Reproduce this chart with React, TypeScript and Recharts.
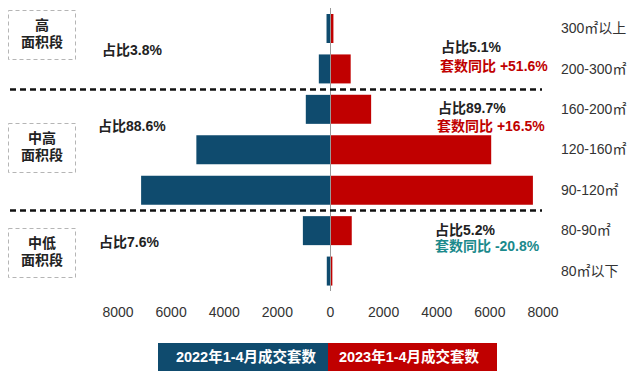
import React from 'react'
import {
  BarChart,
  Bar,
  XAxis,
  YAxis,
  ReferenceLine,
} from 'recharts'

const categories = ['300㎡以上', '200-300㎡', '160-200㎡', '120-160㎡', '90-120㎡', '80-90㎡', '80㎡以下']
const sales2022 = [150, 440, 930, 5050, 7130, 1040, 140]
const sales2023 = [110, 760, 1530, 6050, 7620, 800, 70]
const xTicks = [-8000, -6000, -4000, -2000, 0, 2000, 4000, 6000, 8000]

const BLUE = '#0f4b6e'
const RED = '#c00000'
const TEAL = '#1b8a8c'
const FONT = '"Liberation Sans", "Noto Sans CJK SC", sans-serif'

const data = categories.map((name, i) => ({
  name,
  y2022: -sales2022[i],
  y2023: sales2023[i],
}))

const GroupBox = ({ y, lines }: { y: number; lines: string[] }) => (
  <g>
    <rect x={8.5} y={y + 0.5} width={67} height={49} fill='none' stroke='#b5b5b5' strokeDasharray='4 3' />
    {lines.map((t, i) => (
      <text
        key={i}
        x={42}
        y={y + 15 + i * 17}
        textAnchor='middle'
        dominantBaseline='central'
        fontSize={14}
        fontWeight='bold'
        fill='#222'
      >
        {t}
      </text>
    ))}
  </g>
)

const Note = ({ x, y, text, color = '#222' }: { x: number; y: number; text: string; color?: string }) => (
  <text x={x} y={y} dominantBaseline='central' fontSize={14} fontWeight='bold' fill={color}>
    {text}
  </text>
)

export default function App() {
  return (
    <div style={{ position: 'absolute', left: 0, top: 0, width: 637, height: 378, background: '#fff', fontFamily: FONT }}>
      <BarChart
        width={637}
        height={378}
        data={data}
        layout='vertical'
        stackOffset='sign'
        margin={{ top: 8, right: 4, bottom: 57, left: 118 }}
      >
        <XAxis
          type='number'
          domain={[-8000, 8000]}
          ticks={xTicks}
          tickFormatter={(v) => String(Math.abs(v))}
          axisLine={false}
          tickLine={false}
          tickMargin={10}
          height={30}
          tick={{ fontSize: 14, fill: '#333' }}
        />
        <YAxis
          type='category'
          dataKey='name'
          orientation='right'
          width={90}
          axisLine={false}
          tickLine={false}
          tickMargin={12}
          tick={{ fontSize: 14, fill: '#333', textAnchor: 'start' }}
        />
        <Bar dataKey='y2022' stackId='a' fill={BLUE} barSize={29} isAnimationActive={false} />
        <Bar dataKey='y2023' stackId='a' fill={RED} barSize={29} isAnimationActive={false} />
        <ReferenceLine x={0} stroke='#999' strokeWidth={1} />
      </BarChart>

      <svg
        width={637}
        height={378}
        style={{ position: 'absolute', left: 0, top: 0, pointerEvents: 'none', fontFamily: FONT }}
      >
        <line x1={10} x2={542} y1={89.5} y2={89.5} stroke='#111' strokeWidth={2.5} strokeDasharray='6 4' />
        <line x1={10} x2={542} y1={210.5} y2={210.5} stroke='#111' strokeWidth={2.5} strokeDasharray='6 4' />

        <GroupBox y={10} lines={['高', '面积段']} />
        <GroupBox y={123} lines={['中高', '面积段']} />
        <GroupBox y={228} lines={['中低', '面积段']} />

        <Note x={102} y={50} text='占比3.8%' />
        <Note x={98} y={126} text='占比88.6%' />
        <Note x={99} y={242} text='占比7.6%' />

        <Note x={441} y={47} text='占比5.1%' />
        <Note x={440} y={66} text='套数同比 +51.6%' color={RED} />
        <Note x={438} y={108} text='占比89.7%' />
        <Note x={437} y={126} text='套数同比 +16.5%' color={RED} />
        <Note x={435} y={230} text='占比5.2%' />
        <Note x={435} y={246} text='套数同比 -20.8%' color={TEAL} />

        <rect x={158} y={343} width={170} height={28} fill={BLUE} />
        <rect x={328} y={343} width={169} height={28} fill={RED} />
        <text x={246} y={357} textAnchor='middle' dominantBaseline='central' fontSize={14.5} fontWeight='bold' fill='#fff'>
          2022年1-4月成交套数
        </text>
        <text x={409} y={357} textAnchor='middle' dominantBaseline='central' fontSize={14.5} fontWeight='bold' fill='#fff'>
          2023年1-4月成交套数
        </text>
      </svg>
    </div>
  )
}
